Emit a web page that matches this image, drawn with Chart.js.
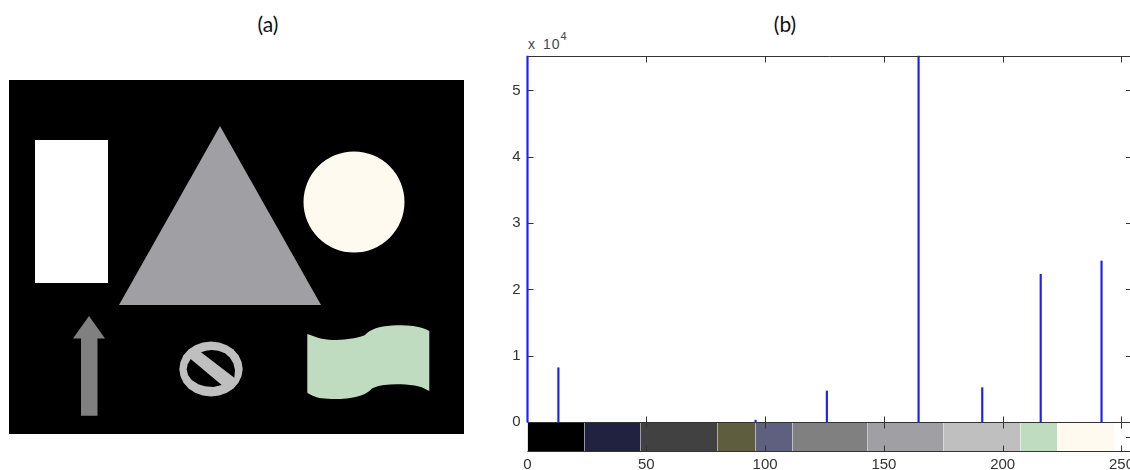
<!DOCTYPE html>
<html>
<head>
<meta charset="utf-8">
<title>Shapes and histogram</title>
<script src="https://cdn.jsdelivr.net/npm/chart.js@4/dist/chart.umd.min.js"></script>
<style>
  html, body { margin: 0; padding: 0; background: #fff; overflow: hidden; }
  #page { position: relative; width: 1130px; height: 470px; overflow: hidden; }
  canvas { position: absolute; display: block; }
  #grafikA { left: 0; top: 0; }
  #grafikB { left: 500px; top: 40px; }
  .baslik { position: absolute; top: 11px; width: 60px; text-align: center; font: 21px Lato, sans-serif; color: #111; }
  #us { position: absolute; left: 528px; top: 36px; font: 14px "Liberation Sans", sans-serif; letter-spacing: 1px; word-spacing: 2px; color: #444; }
  #us sup { font-size: 11px; position: relative; top: -3px; line-height: 0; vertical-align: super; }
</style>
</head>
<body>
<div id="page">
  <div class="baslik" style="left:238px">(a)</div>
  <div class="baslik" style="left:755px">(b)</div>
  <div id="us">x 10<sup>4</sup></div>
  <canvas id="grafikA" width="500" height="470"></canvas>
  <canvas id="grafikB" width="638" height="430"></canvas>
</div>
<script>
// panel (a): shape outlines, in image pixels of the black picture
const dikdortgen = [[26, 60], [99, 60], [99, 203], [26, 203]];
const ucgen = [[211, 46], [312, 225], [110, 225]];
const daire = [[345, 122]];
const ok = [[80, 236], [96, 258.5], [88.5, 258.5], [88.5, 335.7], [72, 335.7], [72, 258.5], [64, 258.5]];
const halka = [[233.7, 289], [232.6, 296.1], [229.5, 302.8], [224.4, 308.4], [217.9, 312.8], [210.2, 315.6],
  [202, 316.5], [193.8, 315.6], [186.1, 312.8], [179.6, 308.4], [174.5, 302.8], [171.4, 296.1],
  [170.3, 289], [171.4, 281.9], [174.5, 275.2], [179.6, 269.6], [186.1, 265.2], [193.8, 262.4],
  [202, 261.5], [210.2, 262.4], [217.9, 265.2], [224.4, 269.6], [229.5, 275.2], [232.6, 281.9]];
const halkaUst = [[192, 272.3], [197, 270.7], [202.7, 270], [209.3, 270.7], [216, 273.3], [221, 277.7],
  [224.3, 283.3], [226, 290], [225.3, 297.7]];
const halkaAlt = [[181.7, 279], [178.7, 284.3], [177.7, 289.3], [179, 295], [182.7, 300], [189.3, 304.3],
  [196, 306.3], [204.3, 307], [212.7, 305]];
// corners are listed twice so the curve stays sharp there
const bayrak = [[298.3, 254], [298.3, 254], [312.7, 258.7], [327.7, 260], [343, 258.5], [355, 255.5],
  [360, 251.5], [369.3, 247.5], [387.7, 245.3], [404.3, 246], [414, 248.3], [420.3, 251], [420.3, 251],
  [420.3, 311], [420.3, 311], [410, 306.5], [392, 304.3], [375, 305], [364, 308], [359, 312], [352, 315.5],
  [341, 318], [327.7, 319], [312.7, 318.3], [304.3, 316], [298.3, 312.7], [298.3, 312.7]];

// panel (b): histogram
const griSeviyeleri = [0, 13, 96, 126, 164.6, 191.4, 216, 241.6];
const adetler = [55200, 8200, 300, 4700, 55200, 5200, 22300, 24300];
const xTikleri = [0, 50, 100, 150, 200, 250];
const yTikleri = [0, 10000, 20000, 30000, 40000, 50000];

// colour bar under the histogram
const bantBaslari = [0, 24, 47.5, 80, 96, 111.5, 143, 175, 207.5, 223];
const bantSonlari = [24, 47.5, 80, 96, 111.5, 143, 175, 207.5, 223, 247];
const bantRenkleri = ["#000000", "#20223f", "#414141", "#5e5d3e", "#5f5f7f", "#808080", "#a09fa3", "#bfbfbf", "#bfdcc0", "#fffaf0"];

function noktalar(liste) {
  return liste.map((p) => ({ x: p[0], y: p[1] }));
}

function sekil(liste, renk, egrilik) {
  return {
    data: noktalar(liste),
    showLine: true,
    fill: "shape",
    tension: egrilik || 0,
    backgroundColor: renk,
    borderWidth: 0,
    pointRadius: 0
  };
}

const siyahZemin = {
  id: "siyahZemin",
  beforeDatasetsDraw(chart) {
    const a = chart.chartArea;
    chart.ctx.fillStyle = "#000";
    chart.ctx.fillRect(a.left, a.top, a.width, a.height);
  }
};

new Chart(document.getElementById("grafikA"), {
  type: "scatter",
  plugins: [siyahZemin],
  data: {
    // first dataset ends up on top
    datasets: [
      sekil(halkaUst, "#000000"),
      sekil(halkaAlt, "#000000"),
      sekil(halka, "#bfbfbf"),
      sekil(dikdortgen, "#ffffff"),
      sekil(ucgen, "#a09fa3"),
      sekil(ok, "#808080"),
      sekil(bayrak, "#bfdcc0", 0.35),
      {
        data: noktalar(daire),
        pointRadius: 50.5,
        pointBackgroundColor: "#fffaf0",
        pointBorderWidth: 0
      }
    ]
  },
  options: {
    responsive: false,
    animation: false,
    events: [],
    layout: { padding: { left: 9, top: 80, right: 36, bottom: 36 }, autoPadding: false },
    plugins: { legend: { display: false }, tooltip: { enabled: false } },
    scales: {
      x: { type: "linear", min: 0, max: 455, display: false },
      y: { type: "linear", min: 0, max: 354, reverse: true, display: false }
    }
  }
});

const cerceve = {
  id: "cerceve",
  afterDatasetsDraw(chart) {
    const { ctx, chartArea: a, scales } = chart;
    const sifir = Math.round(scales.y.getPixelForValue(0)) + 0.5;
    const ust = Math.round(a.top) + 0.5;
    const alt = Math.round(a.bottom) - 0.5;
    const cizgi = (x1, y1, x2, y2) => {
      ctx.moveTo(x1, y1);
      ctx.lineTo(x2, y2);
    };
    ctx.save();
    ctx.strokeStyle = "#333";
    ctx.lineWidth = 1;
    ctx.beginPath();
    cizgi(a.left, ust, a.right, ust);
    cizgi(a.left, sifir, a.right, sifir);
    cizgi(a.left, alt, a.right, alt);
    xTikleri.forEach((t, i) => {
      const x = Math.round(scales.x.getPixelForValue(t)) + 0.5;
      if (i > 0) {
        cizgi(x, ust, x, ust + 6);
        cizgi(x, sifir - 6, x, sifir + 6);
        cizgi(x, alt - 6, x, alt);
      }
    });
    yTikleri.forEach((t) => {
      const y = Math.round(scales.y.getPixelForValue(t)) + 0.5;
      if (t > 0) {
        cizgi(a.left, y, a.left + 6, y);
        cizgi(a.right - 5, y, a.right, y);
      }
    });
    const orta = Math.round(scales.y.getPixelForValue(-2250)) + 0.5;
    cizgi(a.right - 5, orta, a.right, orta);
    ctx.stroke();
    ctx.restore();
  }
};

const bantlar = bantRenkleri.map((renk, i) => ({
  type: "line",
  data: [{ x: bantBaslari[i], y: 0 }, { x: bantSonlari[i], y: 0 }],
  fill: "start",
  backgroundColor: renk,
  borderWidth: 0,
  pointRadius: 0
}));

new Chart(document.getElementById("grafikB"), {
  type: "bar",
  plugins: [cerceve],
  data: {
    datasets: [
      {
        data: griSeviyeleri.map((g, i) => ({ x: g, y: adetler[i] })),
        backgroundColor: "#1f1ff5",
        barThickness: 1.5,
        borderWidth: 0,
        clip: false
      },
      ...bantlar
    ]
  },
  options: {
    responsive: false,
    animation: false,
    events: [],
    layout: { padding: { top: 15.5, left: 0, right: 0, bottom: 0 }, autoPadding: false },
    plugins: { legend: { display: false }, tooltip: { enabled: false } },
    scales: {
      x: {
        type: "linear",
        min: 0,
        max: 254,
        offset: false,
        grid: { display: false, drawTicks: false },
        border: { display: false },
        afterBuildTicks: (s) => { s.ticks = xTikleri.map((v) => ({ value: v })); },
        afterFit: (s) => { s.height = 18; },
        ticks: {
          autoSkip: false,
          maxRotation: 0,
          padding: 4,
          color: "#333",
          font: { family: "Liberation Sans", size: 15 }
        }
      },
      y: {
        type: "linear",
        min: -4500,
        max: 55200,
        grid: { display: false, drawTicks: false },
        border: { display: false },
        afterBuildTicks: (s) => { s.ticks = yTikleri.map((v) => ({ value: v })); },
        afterFit: (s) => { s.width = 27.5; },
        ticks: {
          padding: 7,
          color: "#333",
          font: { family: "Liberation Sans", size: 15 },
          callback: (v) => String(v / 10000)
        }
      }
    }
  }
});
</script>
</body>
</html>
